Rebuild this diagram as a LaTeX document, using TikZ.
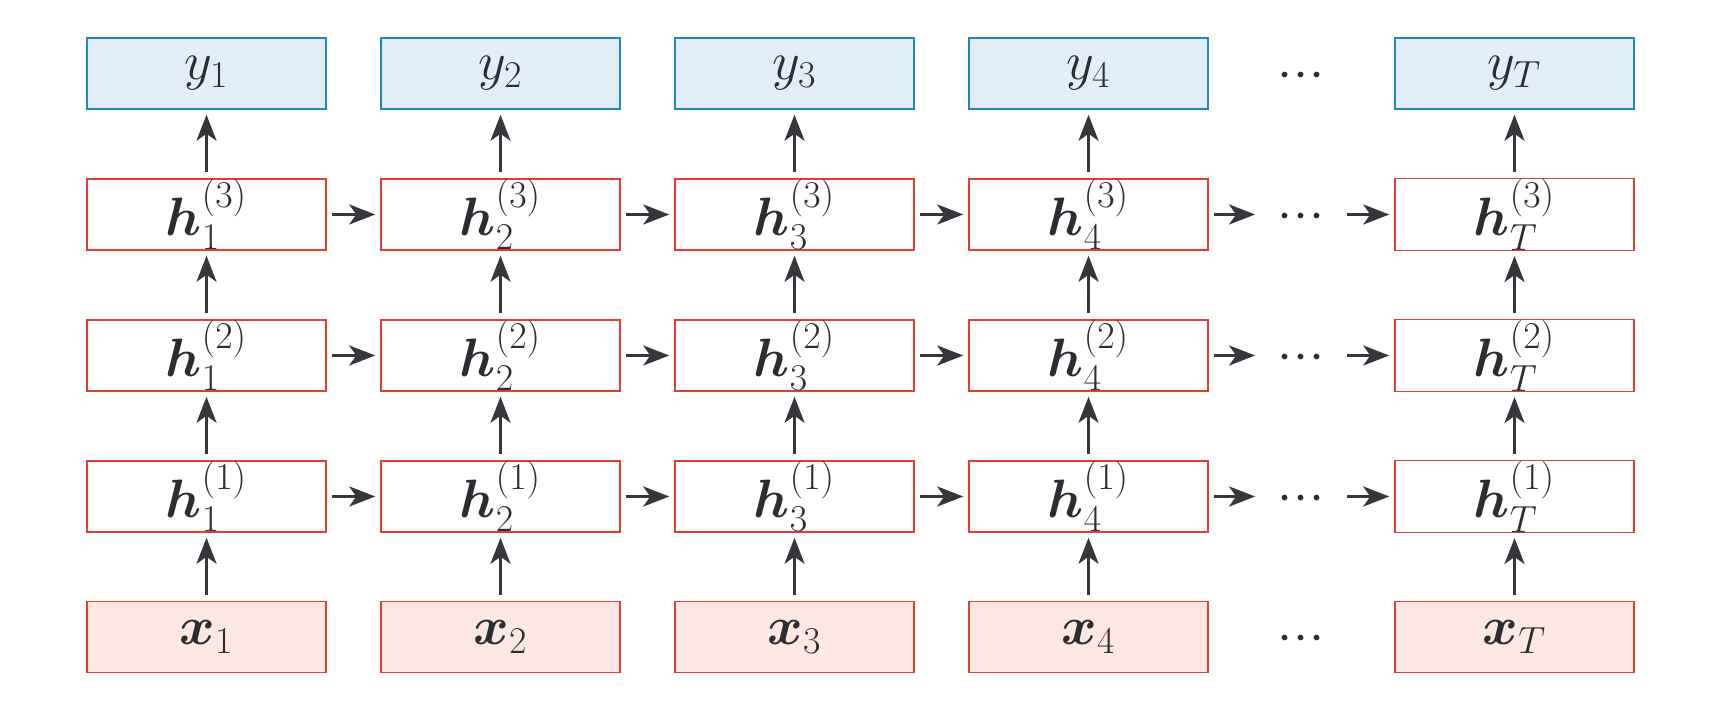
\RequirePackage{fix-cm}
\documentclass[tikz,border=0pt]{standalone}
\usepackage{amsmath,bm}
\usetikzlibrary{arrows.meta}
\definecolor{boxred}{RGB}{229,62,48}
\definecolor{xfill}{RGB}{253,231,226}
\definecolor{yblue}{RGB}{30,136,195}
\definecolor{yfill}{RGB}{225,237,248}
\definecolor{ink}{RGB}{43,45,51}
\definecolor{arrowc}{RGB}{53,55,61}
\tikzset{
  box/.style={draw=boxred, line width=0.75pt, minimum width=119.5pt, minimum height=35.5pt,
    inner sep=0pt, font=\fontsize{27}{32}\selectfont, text=ink},
  hbox/.style={box, fill=white},
  xbox/.style={box, fill=xfill},
  ybox/.style={box, draw=yblue, fill=yfill},
  dotsnode/.style={minimum width=40.5pt, minimum height=20pt, inner sep=0pt,
    font=\fontsize{27}{32}\selectfont, text=ink},
  arr/.style={-{Stealth[length=13pt,width=10pt,inset=3.5pt]}, line width=1.6pt,
    draw=arrowc, shorten <=2.5pt, shorten >=2.5pt},
  varr/.style={arr, shorten <=3pt}
}
\newcommand{\onedot}{\makebox[8pt]{$\cdot$}}
\newcommand{\mydots}{\raisebox{-7.3pt}[0pt][0pt]{\onedot\onedot\onedot}}
\begin{document}
\begin{tikzpicture}[x=0.5pt,y=-0.5pt]
\useasboundingbox (0,0) rectangle (1728,726);
\foreach \i/\x in {1/206.5,2/500.5,3/794.5,4/1088.5,T/1514.5}{
  \node[ybox] (y\i) at (\x,73.5) {$y_{\i}$};
  \node[hbox] (hc\i) at (\x,214.5) {$\bm{h}_{\i}^{(3)}$};
  \node[hbox] (hb\i) at (\x,355.5) {$\bm{h}_{\i}^{(2)}$};
  \node[hbox] (ha\i) at (\x,496.5) {$\bm{h}_{\i}^{(1)}$};
  \node[xbox] (x\i) at (\x,637) {$\bm{x}_{\i}$};
  \draw[varr] (x\i) -- (ha\i);
  \draw[varr] (ha\i) -- (hb\i);
  \draw[varr] (hb\i) -- (hc\i);
  \draw[varr] (hc\i) -- (y\i);
}
\node[dotsnode] (dy) at (1301,73.5) {\mydots};
\node[dotsnode] (dc) at (1301,214.5) {\mydots};
\node[dotsnode] (db) at (1301,355.5) {\mydots};
\node[dotsnode] (da) at (1301,496.5) {\mydots};
\node[dotsnode] (dx) at (1301,637) {\mydots};
\foreach \r in {a,b,c}{
  \draw[arr] (h\r1) -- (h\r2);
  \draw[arr] (h\r2) -- (h\r3);
  \draw[arr] (h\r3) -- (h\r4);
  \draw[arr] (h\r4) -- (d\r);
  \draw[arr] (d\r) -- (h\r T);
}
\end{tikzpicture}
\end{document}
